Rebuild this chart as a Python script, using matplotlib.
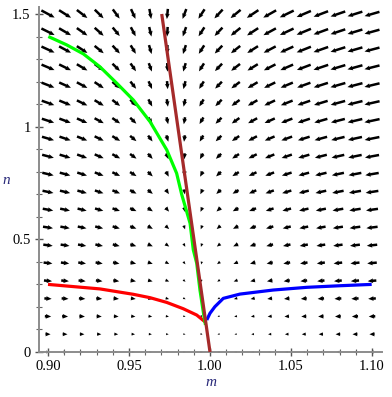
import numpy as np
import matplotlib
matplotlib.use("Agg")
import matplotlib.pyplot as plt

# direction field read from the arrows: dm/dt ~ (1 - m) - B*n, dn/dt ~ -C*n
B_NULL = 0.02
C_DECAY = 0.18
ALPHA = 0.066
N_GRID = 20
M_RANGE = (0.9, 1.1)
N_RANGE = (0.0, 1.5)

# trajectories (m, n)
red_m = [0.9000, 0.9320, 0.9527, 0.9630, 0.9733, 0.9835, 0.9918, 0.9969]
red_n = [0.300, 0.280, 0.256, 0.241, 0.220, 0.192, 0.164, 0.134]

blue_m = [0.9980, 1.0000, 1.0030, 1.0082, 1.0185, 1.0390, 1.0597, 1.0800, 1.0998]
blue_n = [0.142, 0.172, 0.201, 0.238, 0.257, 0.275, 0.287, 0.294, 0.300]

green_m = [0.9002, 0.9115, 0.9218, 0.9320, 0.9424, 0.9527, 0.9630, 0.9733,
           0.9794, 0.9825, 0.9877, 0.9897, 0.9918, 0.9938, 0.9963, 0.9972]
green_n = [1.400, 1.363, 1.323, 1.266, 1.193, 1.118, 1.022, 0.897,
           0.793, 0.700, 0.571, 0.453, 0.394, 0.275, 0.157, 0.120]

brown_m = [0.9702, 1.0000]
brown_n = [1.500, 0.000]

xticks = [0.90, 0.95, 1.00, 1.05, 1.10]
xticklabels = ["0.90", "0.95", "1.00", "1.05", "1.10"]
yticks = [0, 0.5, 1, 1.5]
yticklabels = ["0", "0.5", "1", "1.5"]

W, H = 392, 397
fig = plt.figure(figsize=(W / 100, H / 100), dpi=100)
ax = fig.add_axes([39 / W, 1 - 352 / H, (382 - 39) / W, (352 - 7) / H])
xlim = (0.89444, 1.10617)
ylim = (0.0, 1.531)
ax.set_xlim(*xlim)
ax.set_ylim(*ylim)

# pixels per data unit
sx = (382 - 39) / (xlim[1] - xlim[0])
sy = (352 - 7) / (ylim[1] - ylim[0])

mg, ng = np.meshgrid(np.linspace(*M_RANGE, N_GRID), np.linspace(*N_RANGE, N_GRID))
dm = (1 - mg) - B_NULL * ng
dn = -C_DECAY * ng
hx = (M_RANGE[1] - M_RANGE[0]) / (N_GRID - 1)
hy = (N_RANGE[1] - N_RANGE[0]) / (N_GRID - 1)
mag = np.hypot(dm / hx, dn / hy) * (ALPHA + ng)
length = np.clip(4.4 * np.sqrt(mag), 2.2, 15.5)

px = dm * sx
py = dn * sy
norm = np.hypot(px, py)
U = px / norm * length
V = py / norm * length

ax.quiver(mg, ng, U, V, angles="uv", scale_units="dots", scale=1,
          units="dots", width=2.5, headwidth=1.9, headlength=2.2,
          headaxislength=2.0, minshaft=1, minlength=0.5,
          pivot="middle", color="black", zorder=2, clip_on=False)

lw = 2.3
ax.plot(red_m, red_n, color="#ff0000", lw=lw, zorder=3, solid_capstyle="butt")
ax.plot(blue_m, blue_n, color="#0000ff", lw=lw, zorder=3, solid_capstyle="butt")
ax.plot(green_m, green_n, color="#00ff00", lw=lw, zorder=3, solid_capstyle="butt")
ax.plot(brown_m, brown_n, color="#a52a2a", lw=lw, zorder=4, solid_capstyle="butt")

for s in ["top", "right"]:
    ax.spines[s].set_visible(False)
for s in ["left", "bottom"]:
    ax.spines[s].set_color("#8c8c8c")
    ax.spines[s].set_linewidth(1.4)

ax.set_xticks(xticks)
ax.set_xticklabels(xticklabels)
ax.set_yticks(yticks)
ax.set_yticklabels(yticklabels)
ax.set_xticks(np.arange(0.90, 1.1001, 0.01), minor=True)
ax.set_yticks(np.arange(0, 1.5001, 0.1), minor=True)
ax.tick_params(which="major", direction="inout", length=6, width=1, color="#555555",
               labelsize=10.5, pad=3)
ax.tick_params(which="minor", direction="inout", length=4, width=0.8, color="#666666")
for lab in ax.get_xticklabels() + ax.get_yticklabels():
    lab.set_family("Liberation Serif")

fig.text(211 / W, 1 - 383 / H, "m", family="Liberation Serif", style="italic",
         fontsize=11, color="#2a2a7a", ha="center", va="center")
fig.text(6 / W, 1 - 180 / H, "n", family="Liberation Serif", style="italic",
         fontsize=11, color="#2a2a7a", ha="center", va="center")

fig.savefig("out.png", dpi=100)
